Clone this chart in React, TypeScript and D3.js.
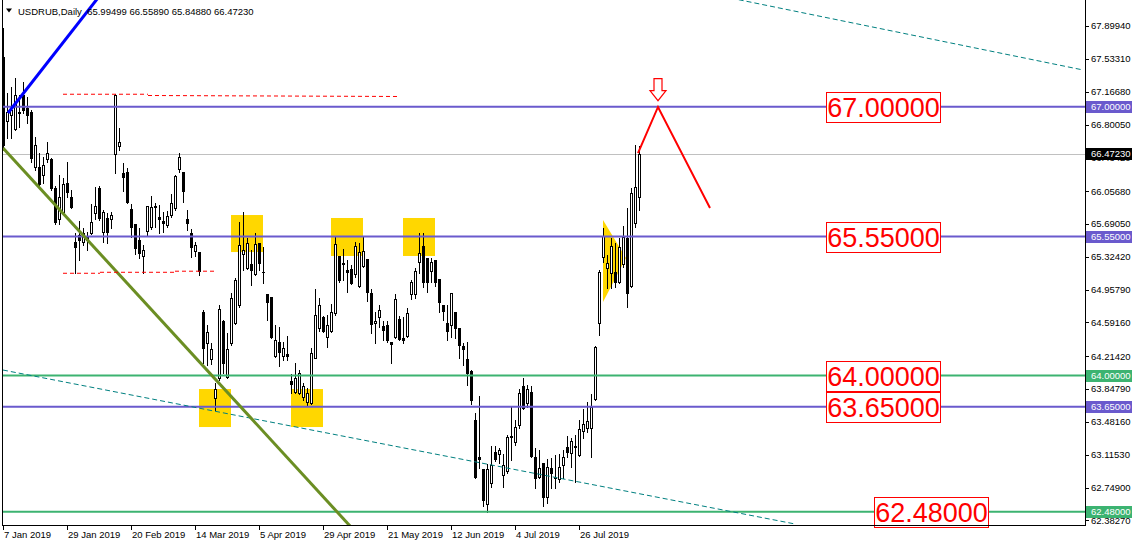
import React from 'react';
import * as d3 from 'd3';

// ---------- DATA (USDRUB Daily, bar 0 = 7 Jan 2019) ----------
const opens = [67.555,66.841,66.908,66.751,66.941,67.131,66.986,66.941,66.327,66.327,66.238,66.416,66.416,66.093,65.747,65.825,66.149,65.992,65.490,65.568,65.490,65.546,65.590,65.814,66.093,65.602,65.758,65.747,66.472,66.562,66.260,66.271,65.858,65.691,65.512,65.334,65.613,65.657,65.881,65.769,65.724,65.680,65.791,65.870,66.305,66.271,65.747,65.590,65.390,65.378,64.709,64.363,64.184,63.749,63.972,64.608,63.983,64.363,64.586,64.787,65.356,65.200,65.245,65.133,65.479,65.155,64.910,64.876,64.218,64.374,64.218,64.240,63.939,63.816,63.805,63.760,63.704,63.693,64.195,64.530,64.653,64.430,64.497,64.698,65.334,65.256,65.178,65.189,65.133,64.999,65.222,65.300,64.921,64.586,64.653,64.553,64.564,64.374,64.430,64.631,64.419,64.441,64.910,64.910,65.267,65.445,65.311,65.166,65.289,65.077,64.787,64.586,64.564,64.709,64.530,64.329,64.184,64.050,63.503,63.090,62.957,62.566,62.800,63.146,63.124,62.890,62.934,63.314,63.258,63.448,63.883,63.693,63.816,63.090,62.867,63.023,62.644,62.968,62.856,62.845,63.001,63.202,63.135,63.202,63.113,63.381,63.414,63.414,63.738,64.586,65.323,65.200,65.144,65.155,65.044,65.245,65.535,64.999,65.702,65.99499];
const highs = [67.879,67.153,67.220,67.320,67.131,67.276,67.108,66.963,66.662,66.483,66.439,66.606,66.428,66.115,66.238,66.204,66.383,66.070,65.590,65.724,65.646,65.602,65.914,66.104,66.115,65.847,65.814,65.825,67.142,66.762,66.372,66.316,65.914,65.691,65.646,65.457,65.892,66.003,65.925,65.903,65.825,65.836,66.026,66.238,66.483,66.271,65.847,65.635,65.490,65.378,64.731,64.564,64.363,63.916,64.787,64.620,64.474,64.921,65.088,65.713,65.825,65.535,65.401,65.590,65.479,65.434,64.910,64.876,64.564,64.541,64.374,64.441,64.017,64.140,64.061,63.916,63.860,64.307,64.966,64.865,64.664,64.675,64.798,65.557,65.334,65.412,65.289,65.233,65.490,65.479,65.546,65.300,64.966,64.709,64.787,64.608,64.608,64.374,64.910,64.664,64.653,64.753,65.066,65.200,65.590,65.590,65.311,65.311,65.289,65.077,64.787,64.787,64.921,64.709,64.530,64.363,64.374,64.061,63.582,63.771,62.957,63.012,63.213,63.213,63.191,63.124,63.336,63.648,63.503,63.849,63.972,63.894,63.883,63.191,63.169,63.023,63.068,63.079,63.113,63.124,63.169,63.325,63.302,63.336,63.503,63.626,63.704,63.794,64.329,65.178,65.646,65.345,65.535,65.479,65.535,65.669,65.870,66.093,66.573,66.5589];
const lows = [66.539,66.651,66.651,66.740,66.774,66.930,66.818,66.383,66.294,66.126,66.149,66.383,66.070,65.691,65.691,65.803,65.992,65.870,65.144,65.289,65.457,65.401,65.579,65.747,65.736,65.490,65.479,65.646,66.260,66.517,66.059,65.925,65.546,65.356,65.311,65.144,65.557,65.635,65.657,65.590,65.602,65.657,65.769,65.847,66.271,65.936,65.624,65.323,65.334,65.122,64.140,64.117,64.128,63.615,63.950,64.028,63.972,64.340,64.575,64.765,65.178,65.189,65.010,65.122,65.178,65.032,64.620,64.419,64.206,64.106,64.173,64.173,63.805,63.805,63.794,63.727,63.671,63.682,64.195,64.497,64.486,64.318,64.486,64.675,65.044,65.066,64.932,65.021,65.099,64.988,65.211,64.832,64.474,64.363,64.541,64.396,64.374,64.140,64.419,64.396,64.363,64.430,64.854,64.865,65.144,64.988,64.932,65.044,64.999,64.709,64.620,64.396,64.430,64.419,64.195,64.117,63.894,63.682,62.856,62.968,62.544,62.477,62.756,63.046,63.023,62.756,62.912,63.057,63.224,63.414,63.626,63.648,63.090,62.744,62.856,62.544,62.577,62.744,62.744,62.811,62.856,63.090,62.979,62.811,63.102,63.302,63.369,63.090,63.727,64.452,65.267,64.977,64.977,64.988,65.032,65.211,64.765,64.988,65.657,65.8488];
const closes = [66.573,66.941,66.963,67.131,66.930,66.963,66.908,66.428,66.573,66.137,66.349,66.483,66.093,65.713,65.992,66.137,66.048,65.881,65.434,65.512,65.590,65.512,65.713,65.892,65.758,65.825,65.602,65.791,67.131,66.606,66.215,65.936,65.657,65.423,65.367,65.401,65.892,65.881,65.892,65.747,65.702,65.780,65.925,66.227,66.439,66.059,65.702,65.434,65.457,65.166,64.307,64.486,64.296,63.849,64.742,64.140,64.296,64.865,65.066,65.457,65.401,65.479,65.178,65.468,65.256,65.150,64.820,64.430,64.396,64.262,64.307,64.218,63.905,63.972,64.028,63.883,63.805,64.251,64.675,64.787,64.497,64.564,64.709,65.468,65.066,65.245,65.155,65.032,65.445,65.378,65.390,64.932,64.575,64.608,64.731,64.508,64.396,64.352,64.854,64.407,64.396,64.698,65.044,65.166,65.367,65.044,65.044,65.267,65.044,64.820,64.720,64.497,64.921,64.530,64.340,64.296,64.028,63.727,62.867,63.068,62.611,62.957,63.001,63.068,63.169,63.001,63.314,63.325,63.425,63.805,63.637,63.849,63.102,62.856,62.968,62.644,62.979,62.912,62.867,62.979,63.090,63.146,63.269,63.213,63.403,63.459,63.492,63.648,64.318,65.155,65.557,65.256,65.445,65.044,65.434,65.546,64.921,66.037,66.104,66.4723];

const dateTickBars = [0, 16, 32, 48, 64, 80, 96, 112, 128, 144];
const dateTickLabels = ['7 Jan 2019', '29 Jan 2019', '20 Feb 2019', '14 Mar 2019', '5 Apr 2019', '29 Apr 2019', '21 May 2019', '12 Jun 2019', '4 Jul 2019', '26 Jul 2019'];

const priceTicks = [67.8994, 67.5331, 67.1668, 66.8005, 66.4342, 66.0568, 65.6905, 65.3242, 64.9579, 64.5916, 64.2142, 63.8479, 63.4816, 63.1153, 62.749, 62.3827];
const priceTickLabels = ['67.89940', '67.53310', '67.16680', '66.80050', '66.43420', '66.05680', '65.69050', '65.32420', '64.95790', '64.59160', '64.21420', '63.84790', '63.48160', '63.11530', '62.74900', '62.38270'];

const purpleLevels = [67.0, 65.55, 63.65];
const greenLevels = [64.0, 62.48];
const levelTexts: Record<string, string> = { '67': '67.00000', '65.55': '65.55000', '63.65': '63.65000', '64': '64.00000', '62.48': '62.48000' };
const lastPrice = 66.4723;
const titleText = 'USDRUB,Daily  65.99499 66.55890 65.84880 66.47230';

// Big red level labels: [bar position of left edge, price]
const bigLabelBars = [205.75, 205.75, 205.75, 205.75, 217.75];
const bigLabelPrices = [67.0, 65.55, 64.0, 63.65, 62.48];

// trend lines [bar, price]
const blueLine = [[1.25, 66.93], [27, 68.40]];
const oliveLine = [[0, 66.539], [88, 62.26]];
const tealLower = [[0, 64.061], [198, 62.343]];
const tealUpper = [[180, 68.23], [270, 67.41]];
const redDashed = [
  [[15, 67.139], [36.25, 67.139]],
  [[36.25, 67.125], [98.5, 67.114]],
  [[15, 65.141], [24.25, 65.141]],
  [[24.25, 65.152], [43, 65.152]],
  [[43, 65.164], [53, 65.164]],
];
const redArrowPath = [[158.75, 66.483], [163.75, 66.997], [176.75, 65.870]];
// yellow rectangles [bar0, bar1, priceTop, priceBottom]
const yellowRects = [
  [57, 65, 65.791, 65.378],
  [82, 90, 65.758, 65.334],
  [100, 108, 65.758, 65.334],
  [49, 57, 63.849, 63.425],
  [72, 80, 63.849, 63.425],
];
const yellowTriangle = [[150, 65.736], [150, 64.820], [155.75, 65.311]];

const W = 1134, H = 545;
const PL = 3, PR = 1085, PT = 0, PB = 525;
const FONT = "'Liberation Sans', Arial, sans-serif";

export default function App() {
  const x = d3.scaleLinear().domain([0, 270.5]).range([PL, PR]);
  const y = d3.scaleLinear().domain([62.48, 67]).range([511.7, 106.7]);
  const line = d3.line<number[]>().x(d => x(d[0])).y(d => y(d[1]));

  const purple = '#6A5ACD';
  const green = '#3CB371';

  const ax = x(redArrowPath[1][0]);
  const ay = y(67) - 6;

  return (
    <svg width={W} height={H} style={{ position: 'absolute', left: 0, top: 0, background: '#fff' }} fontFamily={FONT}>
      <defs>
        <clipPath id="plot"><rect x={PL} y={PT} width={PR - PL} height={PB - PT} /></clipPath>
      </defs>
      <rect x={0} y={0} width={W} height={H} fill="#fff" />
      <g clipPath="url(#plot)">
        {yellowRects.map((r, i) => (
          <rect key={'yr' + i} x={x(r[0])} y={y(r[2])} width={x(r[1]) - x(r[0])} height={y(r[3]) - y(r[2])} fill="#FFD700" />
        ))}
        <path d={line(yellowTriangle)! + 'Z'} fill="#FFD700" />
        <line x1={PL} x2={PR} y1={Math.round(y(lastPrice)) + 0.5} y2={Math.round(y(lastPrice)) + 0.5} stroke="#C0C0C0" />
        <g shapeRendering="crispEdges">
          {opens.map((o, i) => {
            const cx = Math.round(x(i));
            const c = closes[i];
            const bull = c >= o;
            const yH = Math.round(y(highs[i]));
            const yL = Math.round(y(lows[i]));
            const yT = Math.round(y(Math.max(o, c)));
            const yB = Math.round(y(Math.min(o, c)));
            return (
              <g key={i}>
                <line x1={cx + 0.5} x2={cx + 0.5} y1={yH} y2={yL + 1} stroke="#000" />
                {yB - yT < 1
                  ? <line x1={cx - 1} x2={cx + 2} y1={yT + 0.5} y2={yT + 0.5} stroke="#000" />
                  : <rect x={cx - 0.5} y={yT + 0.5} width={2} height={yB - yT} fill={bull ? '#fff' : '#000'} stroke="#000" />}
              </g>
            );
          })}
        </g>
        {purpleLevels.map((p, i) => (
          <line key={'pl' + i} x1={PL} x2={PR} y1={y(p)} y2={y(p)} stroke={purple} strokeWidth={2} />
        ))}
        {greenLevels.map((p, i) => (
          <line key={'gl' + i} x1={PL} x2={PR} y1={y(p)} y2={y(p)} stroke={green} strokeWidth={2} />
        ))}
        <path d={line(tealLower)!} stroke="#008080" strokeWidth={1} strokeDasharray="5,3" fill="none" />
        <path d={line(tealUpper)!} stroke="#008080" strokeWidth={1} strokeDasharray="5,3" fill="none" />
        <path d={line(oliveLine)!} stroke="#6B8E23" strokeWidth={3} fill="none" />
        <path d={line(blueLine)!} stroke="#0000FF" strokeWidth={3} fill="none" />
        {redDashed.map((seg, i) => (
          <path key={'rd' + i} d={line(seg)!} stroke="#FF0000" strokeWidth={1} strokeDasharray="4,3" fill="none" />
        ))}
        <path d={line(redArrowPath)!} stroke="#FF0000" strokeWidth={2} fill="none" />
        <path
          d={`M${ax - 4},${ay - 22} L${ax + 4},${ay - 22} L${ax + 4},${ay - 10} L${ax + 8},${ay - 10} L${ax},${ay} L${ax - 8},${ay - 10} L${ax - 4},${ay - 10} Z`}
          fill="#fff" stroke="#FF0000" strokeWidth={1.2}
        />
      </g>
      {bigLabelPrices.map((p, i) => {
        const bx = Math.round(x(bigLabelBars[i])) + 0.5;
        const by = Math.round(y(p)) - 14.5;
        const key = String(p);
        return (
          <g key={'bl' + i}>
            <rect x={bx} y={by} width={114} height={30} fill="#fff" stroke="#FF0000" />
            <text x={bx + 57} y={by + 15} dy="0.36em" textAnchor="middle" fontSize={27} fill="#FF0000">{levelTexts[key]}</text>
          </g>
        );
      })}
      {/* frame / axes */}
      <line x1={2.5} x2={2.5} y1={0} y2={PB} stroke="#000" />
      <line x1={2} x2={PR + 1} y1={PB + 0.5} y2={PB + 0.5} stroke="#000" />
      <line x1={PR + 0.5} x2={PR + 0.5} y1={0} y2={PB + 1} stroke="#000" />
      {priceTicks.map((p, i) => (
        <g key={'pt' + i}>
          <line x1={PR} x2={PR + 4} y1={Math.round(y(p)) + 0.5} y2={Math.round(y(p)) + 0.5} stroke="#000" />
          <text x={PR + 6} y={y(p)} dy="0.35em" fontSize={9.5} fill="#000">{priceTickLabels[i]}</text>
        </g>
      ))}
      {[...purpleLevels.map(p => [p, purple]), ...greenLevels.map(p => [p, green]), [lastPrice, '#000']].map((d, i) => {
        const p = d[0] as number;
        const col = d[1] as string;
        const txt = col === '#000' ? '66.47230' : levelTexts[String(p)];
        const yy = Math.round(y(p));
        return (
          <g key={'lb' + i}>
            <rect x={PR + 1} y={yy - 6} width={46} height={12} fill={col} />
            <text x={PR + 6} y={yy} dy="0.35em" fontSize={9.5} fill="#fff">{txt}</text>
          </g>
        );
      })}
      {dateTickBars.map((b, i) => (
        <g key={'dt' + i}>
          <line x1={Math.round(x(b)) + 0.5} x2={Math.round(x(b)) + 0.5} y1={PB} y2={PB + 5} stroke="#000" />
          <text x={x(b) + 1} y={538} fontSize={9.5} fill="#000">{dateTickLabels[i]}</text>
        </g>
      ))}
      <path d="M6,8.5 L12,8.5 L9,12.5 Z" fill="#000" />
      <text x={18} y={14.5} fontSize={9.5} fill="#000" style={{ whiteSpace: 'pre' }}>{titleText}</text>
    </svg>
  );
}
